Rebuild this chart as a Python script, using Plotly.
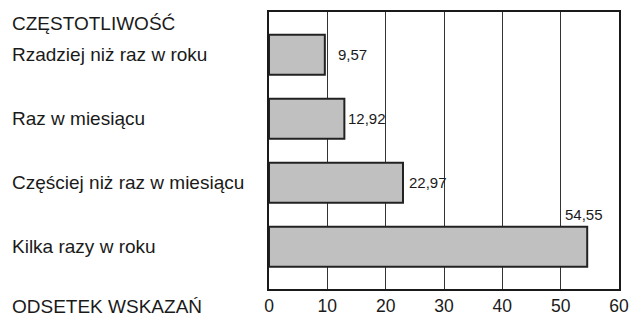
import plotly.graph_objects as go

categories = ["Rzadziej niż raz w roku", "Raz w miesiącu", "Częściej niż raz w miesiącu", "Kilka razy w roku"]
values = [9.57, 12.92, 22.97, 54.55]
value_labels = ["9,57", "12,92", "22,97", "54,55"]
tick_values = [0, 10, 20, 30, 40, 50, 60]
header_label = "CZĘSTOTLIWOŚĆ"
axis_label = "ODSETEK WSKAZAŃ"

L, R, T, B = 269, 11, 12, 28
W, H = 630, 317
pw = W - L - R
ph = H - T - B

fig = go.Figure()
fig.add_trace(go.Bar(
    x=values, y=list(range(len(categories))), orientation="h",
    width=0.625,
    marker=dict(color="#c0c0c0", line=dict(color="#222222", width=2)),
    hoverinfo="skip",
))

FONT = "Liberation Sans, Arial, sans-serif"
NARROW = "Liberation Sans Narrow, Arial Narrow, Liberation Sans, sans-serif"

ann = []
for i, c in enumerate(categories):
    ann.append(dict(x=(10 - L) / pw, xref="paper", y=i, yref="y", text=c,
                    showarrow=False, xanchor="left", yanchor="middle",
                    font=dict(family=FONT, size=19, color="#1a1a1a")))
ann.append(dict(x=(10 - L) / pw, xref="paper", y=(H - B - 24) / ph, yref="paper",
                text=header_label, showarrow=False, xanchor="left", yanchor="middle",
                font=dict(family=FONT, size=19, color="#1a1a1a")))
ann.append(dict(x=(10 - L) / pw, xref="paper", y=-(306.5 - (H - B)) / ph, yref="paper",
                text=axis_label, showarrow=False, xanchor="left", yanchor="middle",
                font=dict(family=FONT, size=19, color="#1a1a1a")))

shifts = [13, 4, 6]
for i, (v, lab) in enumerate(zip(values, value_labels)):
    if i < 3:
        ann.append(dict(x=v, y=i, xref="x", yref="y", text=lab, showarrow=False,
                        xanchor="left", yanchor="middle", xshift=shifts[i] - 2,
                        font=dict(family=NARROW, size=15, color="#1a1a1a")))
    else:
        ann.append(dict(x=v, y=i, xref="x", yref="y", text=lab, showarrow=False,
                        xanchor="center", yanchor="middle", xshift=-3, yshift=32,
                        font=dict(family=NARROW, size=15, color="#1a1a1a")))

fig.update_layout(
    width=W, height=H,
    margin=dict(l=L, r=R, t=T, b=B, pad=0, autoexpand=False),
    paper_bgcolor="white", plot_bgcolor="white",
    showlegend=False,
    annotations=ann,
    xaxis=dict(range=[0, 60], tickvals=tick_values, ticktext=[str(t) for t in tick_values],
               showgrid=True, gridcolor="#333333", gridwidth=1,
               showline=True, linecolor="#1a1a1a", linewidth=2, mirror=True,
               ticks="", zeroline=False, automargin=False,
               tickfont=dict(family=FONT, size=17.5, color="#1a1a1a")),
    yaxis=dict(range=[3.66, -0.67], showticklabels=False, showgrid=False,
               showline=True, linecolor="#1a1a1a", linewidth=2, mirror=True,
               ticks="", zeroline=False, automargin=False),
)

fig.write_html("out.html", config={"displayModeBar": False},
               post_script="document.body.style.margin='0';document.body.style.overflow='hidden';")
